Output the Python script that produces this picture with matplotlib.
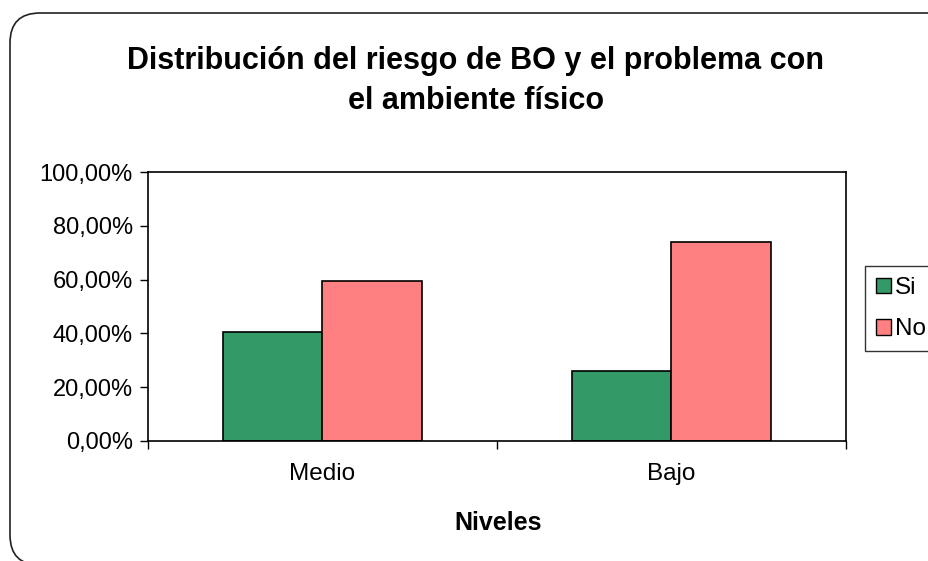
import matplotlib.pyplot as plt
import numpy as np
from matplotlib.patches import FancyBboxPatch, Patch

plt.rcParams['font.family'] = ['Liberation Sans', 'DejaVu Sans']

# datos
niveles = ['Medio', 'Bajo']
si = [40.6, 26.0]
no = [59.4, 74.0]
series = ['Si', 'No']
colores = ['#339966', '#FF8080']

fig = plt.figure(figsize=(9.29, 5.61), dpi=100)

# borde redondeado del area del grafico (en pixeles)
borde = FancyBboxPatch((10, -4), 960, 552, boxstyle='round,pad=0,rounding_size=30',
                       transform=None, fill=False, edgecolor='#222222', linewidth=1.2)
fig.patches.append(borde)

ax = fig.add_axes([148 / 929, 1 - 441 / 561, (846 - 148) / 929, (441 - 172) / 561])

x = np.arange(len(niveles))
w = 1 / 3.5
ax.bar(x - w / 2, si, w, color=colores[0], edgecolor='black', linewidth=1.2, label=series[0])
ax.bar(x + w / 2, no, w, color=colores[1], edgecolor='black', linewidth=1.2, label=series[1])

ax.set_xlim(-0.5, 1.5)
ax.set_ylim(0, 100)
ax.set_yticks(np.arange(0, 101, 20))
ax.set_yticklabels(['%d,00%%' % v for v in np.arange(0, 101, 20)], fontsize=17)
ax.set_xticks([-0.5, 0.5, 1.5])
ax.set_xticklabels([])
ax.set_xticks(x, minor=True)
ax.set_xticklabels(niveles, minor=True, fontsize=17.5)
ax.tick_params(axis='x', which='minor', length=0, pad=16)
ax.tick_params(axis='both', which='major', direction='out', length=6, width=1, color='black')
ax.tick_params(axis='y', pad=5)
for s in ax.spines.values():
    s.set_linewidth(1.2)

fig.text(498 / 929, 1 - 523 / 561, 'Niveles', ha='center', va='center',
         fontsize=18, fontweight='bold')

fig.text(476 / 929, 1 - 81 / 561, 'Distribución del riesgo de BO y el problema con\nel ambiente físico',
         ha='center', va='center', fontsize=22, fontweight='bold', linespacing=1.45)

handles = [Patch(facecolor=c, edgecolor='black', label=s) for c, s in zip(colores, series)]
fig.legend(handles=handles, loc='upper left', bbox_to_anchor=(865 / 929, 1 - 266 / 561),
           frameon=True, fancybox=False, edgecolor='black', fontsize=17.5,
           handlelength=0.6, handleheight=0.6, handletextpad=0.2, labelspacing=0.8,
           borderpad=0.45, borderaxespad=0)

fig.savefig('out.png', dpi=100)
